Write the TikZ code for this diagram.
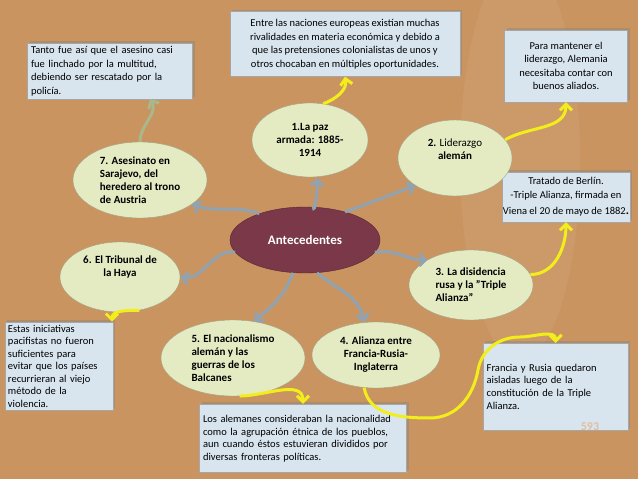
\documentclass[tikz,border=0pt]{standalone}
\usepackage{fontspec}
\setmainfont{Carlito}
\usetikzlibrary{arrows.meta,shapes.geometric,shadows}
\definecolor{cork}{HTML}{C99460}
\definecolor{boxc}{HTML}{D8E5EF}
\definecolor{ell}{HTML}{E4EBC3}
\definecolor{cen}{HTML}{7A3848}
\definecolor{garr}{HTML}{8FA3B3}
\definecolor{yarr}{HTML}{F2EE1C}
\definecolor{varr}{HTML}{A9B88A}
\hyphenpenalty=10000 \exhyphenpenalty=10000
\begin{document}
\begin{tikzpicture}[x=1pt,y=-1pt,font=\fontsize{10.5}{13.5}\selectfont,
 box/.style={draw=gray!70,fill=boxc,inner sep=3pt,align=center,drop shadow={shadow xshift=2pt,shadow yshift=2pt,opacity=0.4}},
 el/.style={ellipse,draw=ell!70!black,fill=ell,align=center,inner sep=0pt,font=\bfseries\fontsize{11}{13}\selectfont},
 garrow/.style={draw=garr,line width=3pt,-{Straight Barb[length=6pt,width=12pt]}},
 yarrow/.style={draw=yarr,line width=3pt,-{Straight Barb[length=6pt,width=12pt]}},
 varrow/.style={draw=varr,line width=3pt,-{Straight Barb[length=6pt,width=12pt]}}]
\fill[cork] (0,0) rectangle (638,479);
\useasboundingbox (0,0) rectangle (638,479);
\fill[white,opacity=0.06] (520,160) ellipse (60 and 200);
% boxes
\node[box,minimum width=230,minimum height=65] (bt) at (345,44) {Entre las naciones europeas existían muchas\\rivalidades en materia económica y debido a\\que las pretensiones colonialistas de unos y\\otros chocaban en múltiples oportunidades.};
\node[box,minimum width=165,minimum height=52,align=left,text width=158] (btl) at (110,71) {Tanto fue así que el asesino casi\\fue linchado por la multitud,\\debiendo ser rescatado por la\\policía.};
\node[box,minimum width=123,minimum height=72] (btr) at (566,66) {Para mantener el\\liderazgo, Alemania\\necesitaba contar con\\buenos aliados.};
\node[box,minimum width=123,minimum height=50,inner sep=1pt] (bmr) at (566,197) {Tratado de Berlín.\\-Triple Alianza, firmada en\\[3pt] Viena el 20 de mayo de 1882\textbf{\large.}};
\node[box,minimum width=108,minimum height=88,align=left,text width=102,font=\fontsize{10.5}{12.5}\selectfont] (blb) at (59,366) {Estas iniciativas\\pacifistas no fueron\\suficientes para\\evitar que los países\\recurrieran al viejo\\método de la\\violencia.};
\node[box,minimum width=207,minimum height=68,align=left,text width=200,font=\fontsize{10.5}{12.7}\selectfont] (bb) at (303,438) {\\[-4pt]Los alemanes consideraban la nacionalidad\\como la agrupación étnica de los pueblos,\\aun cuando éstos estuvieran divididos por\\diversas fronteras políticas.};
\node[box,minimum width=145,minimum height=87,align=left,text width=138,anchor=north west,font=\fontsize{10.5}{12.7}\selectfont] (brb) at (483,343) {Francia y Rusia quedaron\\aisladas luego de la\\constitución de la Triple\\Alianza.\\[24pt]};
% ellipses
\node[ellipse,fill=cen,draw=cen!70!black,minimum width=150,minimum height=66,text=white,font=\bfseries\fontsize{13}{15}\selectfont] (c) at (305,240) {Antecedentes};
\node[el,minimum width=116,minimum height=74] (e1) at (310,140) {1.La paz\\armada: 1885-\\1914};
\node[el,minimum width=114,minimum height=76,font=\fontsize{11}{13}\selectfont] (e2) at (455,158) {\textbf{2.} Liderazgo\\\textbf{alemán}\\[4pt]};
\node[el,minimum width=134,minimum height=76,align=left] (e7) at (140,180) {7. Asesinato en\\Sarajevo, del\\heredero al trono\\de Austria};
\node[el,minimum width=120,minimum height=70] (e6) at (120,277) {6. El Tribunal de\\la Haya\\[8pt]};
\node[el,minimum width=124,minimum height=70,align=left] (e3) at (471,285) {3. La disidencia\\rusa y la "Triple\\Alianza"};
\node[el,minimum width=144,minimum height=76,align=left] (e5) at (233,358) {5. El nacionalismo\\alemán y las\\guerras de los\\Balcanes};
\node[el,minimum width=128,minimum height=66] (e4) at (376,355) {4. Alianza entre\\Francia-Rusia-\\Inglaterra};
\node[text=cork!60!white,font=\bfseries\fontsize{12}{14}\selectfont] (pg) at (590,427) {593};
% gray arrows
\coordinate (a1) at (313,206);
\coordinate (a1e) at (318,178);
\draw[garrow] (a1) to[out=-80,in=-95] (a1e);
\draw[garrow] (c.35) to[out=20,in=200] (e2.215);
\draw[garrow] (c.150) to[out=160,in=-20] (e7.-25);
\draw[garrow] (c.190) to[out=170,in=-10] (e6.east);
\draw[garrow] (c.-10) to[out=10,in=180] (e3.150);
\draw[garrow] (c.250) to[out=250,in=40] (e5.60);
\draw[garrow] (c.290) to[out=-40,in=100] (e4.110);
% yellow arrows
\draw[yarrow] (e1.70) to[out=20,in=-80] (bt.south);
\draw[yarrow] (e2.20) to[out=30,in=-90] (btr.south);
\draw[yarrow] (e3.10) to[out=0,in=-90] (bmr.south);
\draw[yarrow] (e6.-60) to[out=180,in=90] (blb.40);
\draw[yarrow] (e5.-80) to[out=0,in=90] (bb.north);
\coordinate (w1) at (430,418);
\coordinate (w2) at (478,370);
\coordinate (w3) at (520,337);
\draw[yarrow] (e4.-110) to[out=-80,in=180] (w1) to[out=0,in=-100] (w2) to[out=80,in=180] (w3) to[out=0,in=90] (brb.north);
\draw[varrow] (e7.north) to[out=90,in=-60] (btl.-35);
\end{tikzpicture}
\end{document}
